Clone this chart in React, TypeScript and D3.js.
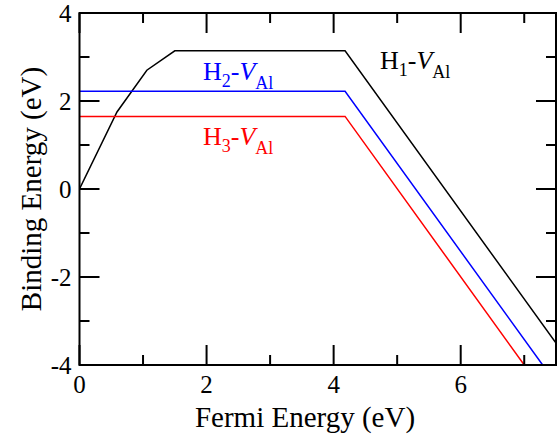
import React from "react";
import * as d3 from "d3";

const W = 560;
const H = 438;

// H1-VAl (black)
const h1X = [0, 0.59, 1.06, 1.5, 4.18, 7.5];
const h1Y = [0, 1.75, 2.7, 3.14, 3.14, -3.5];
// H2-VAl (blue)
const h2X = [0, 4.18, 7.29];
const h2Y = [2.22, 2.22, -4];
// H3-VAl (red)
const h3X = [0, 4.18, 7.0];
const h3Y = [1.65, 1.65, -4];

const xMajor = [0, 2, 4, 6];
const xMinor = [1, 3, 5, 7];
const yMajor = [-4, -2, 0, 2, 4];
const yMinor = [-3, -1, 1, 3];

const series = [
  { xs: h1X, ys: h1Y, color: "#000000" },
  { xs: h2X, ys: h2Y, color: "#0000ff" },
  { xs: h3X, ys: h3Y, color: "#ff0000" },
];

const FONT = '"Liberation Serif", "Times New Roman", Times, serif';

export default function App() {
  const left = 79.5, right = 556, top = 13, bottom = 365;
  const x = d3.scaleLinear().domain([0, 7.5]).range([left, right]);
  const y = d3.scaleLinear().domain([-4, 4]).range([bottom, top]);
  const line = d3
    .line<[number, number]>()
    .x((d) => x(d[0]))
    .y((d) => y(d[1]));
  const maj = 20, mnr = 10;
  const ts = { fontFamily: FONT };

  const label = (sub: string, lx: number, ly: number, color: string) => (
    <text x={lx} y={ly} fontSize={26} fill={color} style={ts}>
      H<tspan fontSize={18} dy={7}>{sub}</tspan>
      <tspan dy={-7}>-</tspan>
      <tspan fontStyle="italic">V</tspan>
      <tspan fontSize={18} dy={9}>Al</tspan>
    </text>
  );

  return (
    <svg
      width={W}
      height={H}
      style={{ position: "absolute", left: 0, top: 0, background: "#fff", fontFamily: FONT }}
    >
      <defs>
        <clipPath id="plot">
          <rect x={left} y={top} width={right - left} height={bottom - top} />
        </clipPath>
      </defs>
      <g clipPath="url(#plot)">
        {series.map((s, i) => (
          <path
            key={i}
            d={line(s.xs.map((v, j) => [v, s.ys[j]] as [number, number])) || ""}
            fill="none"
            stroke={s.color}
            strokeWidth={1.5}
          />
        ))}
      </g>
      <g stroke="#000" strokeWidth={2}>
        {xMajor.map((v) => (
          <g key={"xM" + v}>
            <line x1={x(v)} x2={x(v)} y1={bottom} y2={bottom - maj} />
            <line x1={x(v)} x2={x(v)} y1={top} y2={top + maj} />
          </g>
        ))}
        {xMinor.map((v) => (
          <g key={"xm" + v}>
            <line x1={x(v)} x2={x(v)} y1={bottom} y2={bottom - mnr} />
            <line x1={x(v)} x2={x(v)} y1={top} y2={top + mnr} />
          </g>
        ))}
        {yMajor.map((v) => (
          <g key={"yM" + v}>
            <line x1={left} x2={left + maj} y1={y(v)} y2={y(v)} />
            <line x1={right} x2={right - maj} y1={y(v)} y2={y(v)} />
          </g>
        ))}
        {yMinor.map((v) => (
          <g key={"ym" + v}>
            <line x1={left} x2={left + mnr} y1={y(v)} y2={y(v)} />
            <line x1={right} x2={right - mnr} y1={y(v)} y2={y(v)} />
          </g>
        ))}
      </g>
      <rect
        x={left}
        y={top}
        width={right - left}
        height={bottom - top}
        fill="none"
        stroke="#000"
        strokeWidth={2}
      />
      {xMajor.map((v) => (
        <text key={"xl" + v} x={x(v)} y={bottom + 28} fontSize={25} textAnchor="middle" style={ts}>
          {v}
        </text>
      ))}
      {yMajor.map((v) => (
        <text key={"yl" + v} x={left - 8} y={y(v) + 9} fontSize={25} textAnchor="end" style={ts}>
          {v < 0 ? "-" + Math.abs(v) : v}
        </text>
      ))}
      <text x={305} y={427} fontSize={29} textAnchor="middle" style={ts}>
        Fermi Energy (eV)
      </text>
      <text
        transform={`translate(41, ${(top + bottom) / 2}) rotate(-90)`}
        fontSize={29}
        textAnchor="middle"
        style={ts}
      >
        Binding Energy (eV)
      </text>
      {label("1", 380, 69, "#000000")}
      {label("2", 203, 80, "#0000ff")}
      {label("3", 203, 145, "#ff0000")}
    </svg>
  );
}
